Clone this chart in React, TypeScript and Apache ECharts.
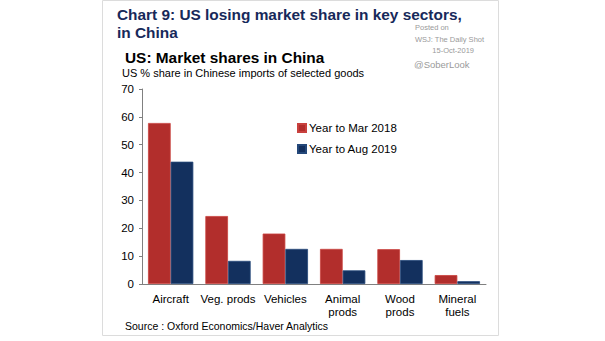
import React, { useEffect, useRef } from "react";
import * as echarts from "echarts";

const categories = ["Aircraft", "Veg. prods", "Vehicles", "Animal\nprods", "Wood\nprods", "Mineral\nfuels"];
const seriesNames = ["Year to Mar 2018", "Year to Aug 2019"];
const mar2018 = [57.8, 24.4, 18.1, 12.6, 12.5, 3.2];
const aug2019 = [43.9, 8.3, 12.6, 4.9, 8.6, 1.0];
const yTicks = [0, 10, 20, 30, 40, 50, 60, 70];

const RED = "#B22E2C";
const BLUE = "#13305E";

export default function App() {
  const ref = useRef<HTMLDivElement>(null);
  useEffect(() => {
    if (!ref.current) return;
    const chart = echarts.init(ref.current, null, { renderer: "svg" });
    const font = "Arial, 'Liberation Sans', sans-serif";
    chart.setOption({
      animation: false,
      backgroundColor: "#ffffff",
      textStyle: { fontFamily: font },
      grid: { left: 142, right: 119, top: 89, bottom: 57, containLabel: false },
      legend: {
        data: seriesNames,
        orient: "vertical",
        left: 292,
        top: 117,
        itemWidth: 8,
        itemHeight: 8,
        itemGap: 9,
        icon: "rect",
        textStyle: { fontSize: 11.5, color: "#000", fontFamily: font, padding: [0, 0, 0, -2] },
      },
      xAxis: {
        type: "category",
        data: categories,
        axisLine: { show: true, lineStyle: { color: "#808080", width: 1 } },
        axisTick: { show: false },
        axisLabel: { fontSize: 11.5, color: "#000", fontFamily: font, margin: 8, lineHeight: 13, interval: 0 },
      },
      yAxis: {
        type: "value",
        min: yTicks[0],
        max: yTicks[yTicks.length - 1],
        interval: 10,
        axisLine: { show: true, lineStyle: { color: "#808080", width: 1 } },
        axisTick: { show: true, length: 3, lineStyle: { color: "#808080" } },
        splitLine: { show: false },
        axisLabel: { fontSize: 11.5, color: "#000", fontFamily: font, margin: 8 },
      },
      series: [
        {
          name: seriesNames[0],
          type: "bar",
          data: mar2018,
          barGap: "0%",
          barCategoryGap: "21%",
          itemStyle: { color: RED, borderColor: "#C9413E", borderWidth: 0.8 },
        },
        {
          name: seriesNames[1],
          type: "bar",
          data: aug2019,
          itemStyle: { color: BLUE, borderColor: "#24487A", borderWidth: 0.8 },
        },
      ],
      graphic: [
        {
          type: "rect",
          shape: { x: 102.5, y: 0.5, width: 396, height: 335 },
          style: { fill: "none", stroke: "#dcdcdc", lineWidth: 1 },
          silent: true,
          z: -1,
        },
        {
          type: "text",
          left: 117,
          top: 7,
          style: { text: "Chart 9: US losing market share in key sectors,", font: `bold 15.4px ${font}`, fill: "#17295A" },
        },
        {
          type: "text",
          left: 117,
          top: 25,
          style: { text: "in China", font: `bold 15.4px ${font}`, fill: "#17295A" },
        },
        {
          type: "text",
          left: 125,
          top: 50,
          style: { text: "US: Market shares in China", font: `bold 15.4px ${font}`, fill: "#000" },
        },
        {
          type: "text",
          left: 122,
          top: 67,
          style: { text: "US % share in Chinese imports of selected goods", font: `11px ${font}`, fill: "#000" },
        },
        {
          type: "text",
          x: 415,
          y: 23,
          style: { text: "Posted on", font: `7.5px ${font}`, fill: "#9a9a9a", align: "left" },
        },
        {
          type: "text",
          x: 415,
          y: 35,
          style: { text: "WSJ: The Daily Shot", font: `7.5px ${font}`, fill: "#9a9a9a", align: "left" },
        },
        {
          type: "text",
          x: 474,
          y: 46,
          style: { text: "15-Oct-2019", font: `7.5px ${font}`, fill: "#9a9a9a", align: "right" },
        },
        {
          type: "text",
          x: 414,
          y: 59,
          style: { text: "@SoberLook", font: `9.5px ${font}`, fill: "#9a9a9a", align: "left" },
        },
        {
          type: "text",
          left: 125,
          top: 320,
          style: { text: "Source : Oxford Economics/Haver Analytics", font: `10.5px ${font}`, fill: "#000" },
        },
      ],
    });
    return () => chart.dispose();
  }, []);
  return (
    <div
      ref={ref}
      style={{ position: "fixed", left: 0, top: 0, width: 605, height: 341, background: "#fff" }}
    />
  );
}
